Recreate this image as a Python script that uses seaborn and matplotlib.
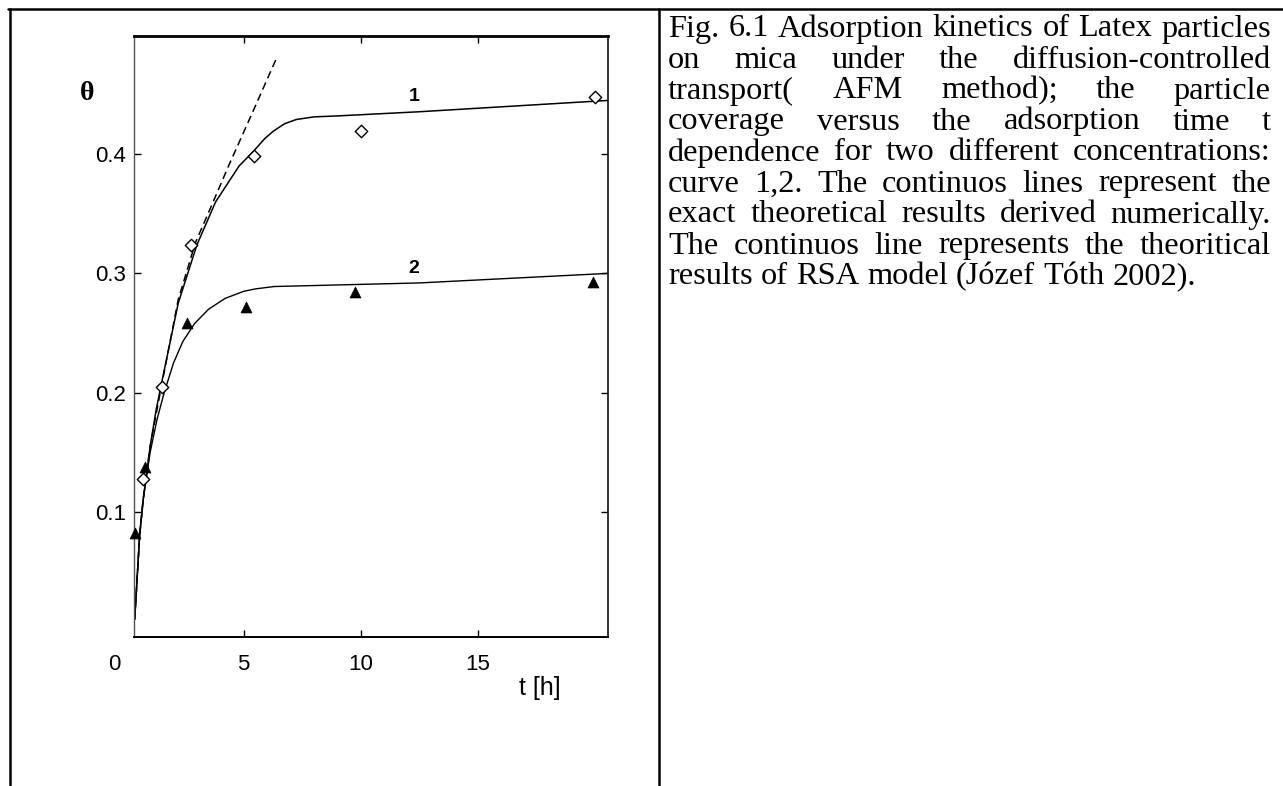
import matplotlib
matplotlib.use("Agg")
import matplotlib.pyplot as plt
from matplotlib.lines import Line2D
import seaborn as sns

# measured points (adsorption time t in h, coverage theta)
t_diamond = [0.70, 1.51, 2.74, 5.44, 10.0, 20.03]
theta_diamond = [0.128, 0.205, 0.324, 0.398, 0.419, 0.448]

t_triangle = [0.34, 0.76, 2.59, 5.10, 9.75, 19.94]
theta_triangle = [0.082, 0.138, 0.258, 0.272, 0.284, 0.293]

# theoretical curves
t_curve1 = [0.34, 0.55, 0.7, 1.0, 1.26, 1.53, 2.2, 3.0, 3.8, 4.8, 5.4, 5.9,
            6.25, 6.75, 7.25, 8.0, 9.0, 12.5, 20.57]
theta_curve1 = [0.01, 0.08, 0.11, 0.155, 0.186, 0.212, 0.275, 0.324, 0.36,
                0.39, 0.402, 0.413, 0.419, 0.4255, 0.4290, 0.4312, 0.432,
                0.4355, 0.445]

t_curve2 = [0.34, 0.55, 0.7, 1.0, 1.3, 1.6, 2.0, 2.4, 2.9, 3.5, 4.2, 5.0,
            5.5, 6.3, 12.5, 20.57]
theta_curve2 = [0.01, 0.08, 0.11, 0.15, 0.178, 0.2, 0.225, 0.243, 0.258,
                0.27, 0.279, 0.285, 0.287, 0.289, 0.292, 0.300]

t_dashed = [0.34, 0.55, 0.7, 1.0, 1.4, 2.2, 2.94, 3.65, 4.35, 5.4, 6.37]
theta_dashed = [0.01, 0.08, 0.11, 0.155, 0.197, 0.278, 0.326, 0.358, 0.39,
                0.436, 0.479]

x_ticks = [5, 10, 15]
y_ticks = [0.1, 0.2, 0.3, 0.4]

caption_lines = [
    "Fig. 6.1 Adsorption kinetics of Latex particles",
    "on mica under the diffusion-controlled",
    "transport( AFM method); the particle",
    "coverage versus the adsorption time t",
    "dependence for two different concentrations:",
    "curve 1,2. The continuos lines represent the",
    "exact theoretical results derived numerically.",
    "The continuos line represents the theoritical",
    "results of RSA model (Józef Tóth 2002).",
]

sns.set_theme(style="ticks")
plt.rcParams['font.family'] = ['Liberation Sans', 'DejaVu Sans']
serif = ['Liberation Serif', 'DejaVu Serif']

W, H = 1283, 786
fig = plt.figure(figsize=(W / 100, H / 100), dpi=100)
fig.patch.set_facecolor('white')

# plot area in pixels: left 134, right 608, top 36, bottom 637
ax = fig.add_axes([134 / W, 1 - 637 / H, (608 - 134) / W, (637 - 36) / H])
ax.set_facecolor('white')

sns.lineplot(x=t_curve1, y=theta_curve1, ax=ax, color='black', lw=1.1,
             sort=False, estimator=None)
sns.lineplot(x=t_curve2, y=theta_curve2, ax=ax, color='black', lw=1.0,
             sort=False, estimator=None)
sns.lineplot(x=t_dashed, y=theta_dashed, ax=ax, color='black', lw=1.1,
             sort=False, estimator=None, linestyle=(0, (5, 3)))

sns.scatterplot(x=t_diamond, y=theta_diamond, ax=ax, marker='D', s=40,
                color='white', edgecolor='black', linewidth=1.0, zorder=4,
                clip_on=False)
sns.scatterplot(x=t_triangle, y=theta_triangle, ax=ax, marker='^', s=62,
                color='black', edgecolor='black', linewidth=0.5, zorder=4,
                clip_on=False)

ax.set_xlim(0.31, 20.57)
ax.set_ylim(-0.0048, 0.499)
ax.set_xticks(x_ticks)
ax.set_xticklabels([str(v) for v in x_ticks])
ax.set_yticks(y_ticks)
ax.set_yticklabels([f"{v:.1f}" for v in y_ticks])
ax.tick_params(direction='in', top=True, right=True, length=5, width=1,
               colors='black', labelsize=16)
ax.tick_params(axis='x', pad=12)
ax.tick_params(axis='y', pad=5.5)
ax.grid(False)

ax.spines['left'].set_color('#555555')
ax.spines['left'].set_linewidth(1.0)
ax.spines['bottom'].set_color('black')
ax.spines['bottom'].set_linewidth(1.4)
ax.spines['top'].set_color('black')
ax.spines['top'].set_linewidth(2.0)
ax.spines['right'].set_color('#222222')
ax.spines['right'].set_linewidth(1.3)

# the "0" under the origin sits left of the axis start
ax.text(-0.55, -16.7 / 601, "0", transform=ax.get_xaxis_transform(),
        ha='center', va='top', fontsize=16, color='black')

ax.set_xlabel("t [h]", fontsize=18, color='black')
ax.xaxis.set_label_coords((540 - 134) / 474, (637 - 688) / 601)
ax.xaxis.label.set_va('center')

ax.set_ylabel("θ", rotation=0, fontsize=20, fontweight='bold',
              family=serif, color='black')
ax.yaxis.set_label_coords((87 - 134) / 474, (637 - 93) / 601)
ax.yaxis.label.set_va('center')
ax.yaxis.label.set_ha('center')

ax.text(12.28, 0.4487, "1", ha='center', va='center', fontsize=14,
        fontweight='bold', color='black')
ax.text(12.28, 0.3037, "2", ha='center', va='center', fontsize=14,
        fontweight='bold', color='black')

# table borders around the figure and caption cells
border = dict(color='black', lw=1.8, transform=fig.transFigure)
fig.add_artist(Line2D([8 / W, 1.0], [1 - 9 / H, 1 - 9 / H], **border))
fig.add_artist(Line2D([10 / W, 10 / W], [1 - 9 / H, 1 / H], **border))
fig.add_artist(Line2D([658.5 / W, 658.5 / W], [1 - 9 / H, 1 / H], **border))

# justified caption text
cap_left, cap_right = 668, 1271
cap_size = 23.3
renderer = fig.canvas.get_renderer()
for i, line in enumerate(caption_lines):
    y = 1 - (36.5 + i * 31) / H
    words = line.split()
    texts = [fig.text(0, y, w, fontsize=cap_size, family=serif,
                      va='baseline', ha='left', color='black') for w in words]
    widths = [t.get_window_extent(renderer).width for t in texts]
    if i == len(caption_lines) - 1:
        gap = cap_size * 100 / 72 * 0.25
    else:
        gap = (cap_right - cap_left - sum(widths)) / (len(words) - 1)
    x = cap_left
    for t, w in zip(texts, widths):
        t.set_x(x / W)
        x += w + gap

fig.savefig("out.png", dpi=100, facecolor='white')
